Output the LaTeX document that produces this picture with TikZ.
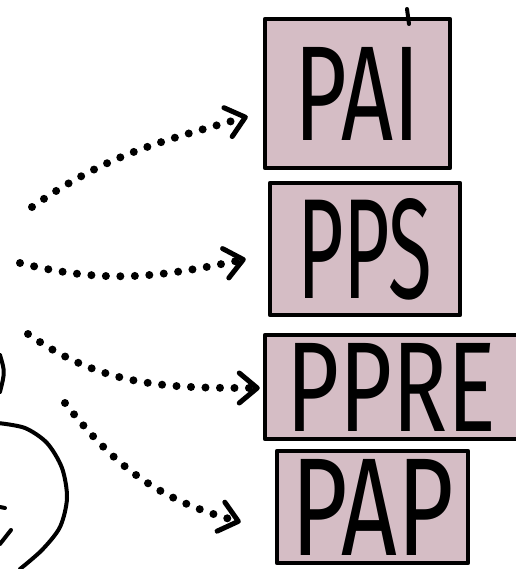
\documentclass[tikz,border=0pt]{standalone}
\usepackage{fontspec}
\usepackage{graphicx}
\usetikzlibrary{arrows.meta,calc}
\newfontfamily\handfont{Fira Sans}
\definecolor{boxpink}{RGB}{213,189,197}
\newcommand{\hand}[3]{\resizebox{#1pt}{#2pt}{\handfont #3}}
\tikzset{
  sketch/.style={line width=4pt,line cap=round,line join=round},
  sketchbox/.style={draw=black,fill=boxpink,line width=4.5pt,line join=round,
    inner sep=0pt},
  dotflow/.style={line width=8pt,line cap=round,dash pattern=on 0pt off 14.5pt,
    -{Straight Barb[length=18pt,width=30pt,line width=5pt,round]}},
}

\begin{document}
\begin{tikzpicture}[x=1pt,y=-1pt]
  \useasboundingbox (0,0) rectangle (515,569);
  % the four boxes
  \node[sketchbox,minimum width=185pt,minimum height=149pt] (pai) at (357.5,93.5) {\hand{126}{93}{PAI}};
  \node[sketchbox,minimum width=190pt,minimum height=132pt] (pps) at (365,249) {\hand{135}{100}{PPS}};
  \node[sketchbox,minimum width=253pt,minimum height=104pt] (ppre) at (391.5,387) {\hand{210}{88}{PPRE}};
  \node[sketchbox,minimum width=191pt,minimum height=112pt] (pap) at (372.5,507) {\hand{163}{96}{PAP}};
  \draw[sketch] (407,9) -- (409,24);
  % dotted arrows
  \coordinate (s1) at (32,207);
  \coordinate (s2) at (20,263);
  \coordinate (s3) at (28,334);
  \coordinate (s4) at (65,403);
  \draw[dotflow] (s1) to[out=35,in=196] ($(pai.west)+(-15,23)$);
  \draw[dotflow] (s2) to[out=-14,in=192] ($(pps.west)+(-22,10)$);
  \draw[dotflow] (s3) to[out=-35,in=180] ($(ppre.west)+(-3,1)$);
  \draw[dotflow] (s4) to[out=-52,in=165] ($(pap.west)+(-34,15)$);
  % cut-off strokes at the left edge
  \draw[sketch] (0,355) .. controls (5,372) .. (0,392);
  \draw[sketch] plot[smooth] coordinates {(-2,423) (25,428) (47,443) (62,468) (67,498) (60,527) (42,550) (20,569)};
  \draw[sketch] (0,507) -- (5,508);
  \draw[sketch] (11,530) -- (0,544);
\end{tikzpicture}
\end{document}
